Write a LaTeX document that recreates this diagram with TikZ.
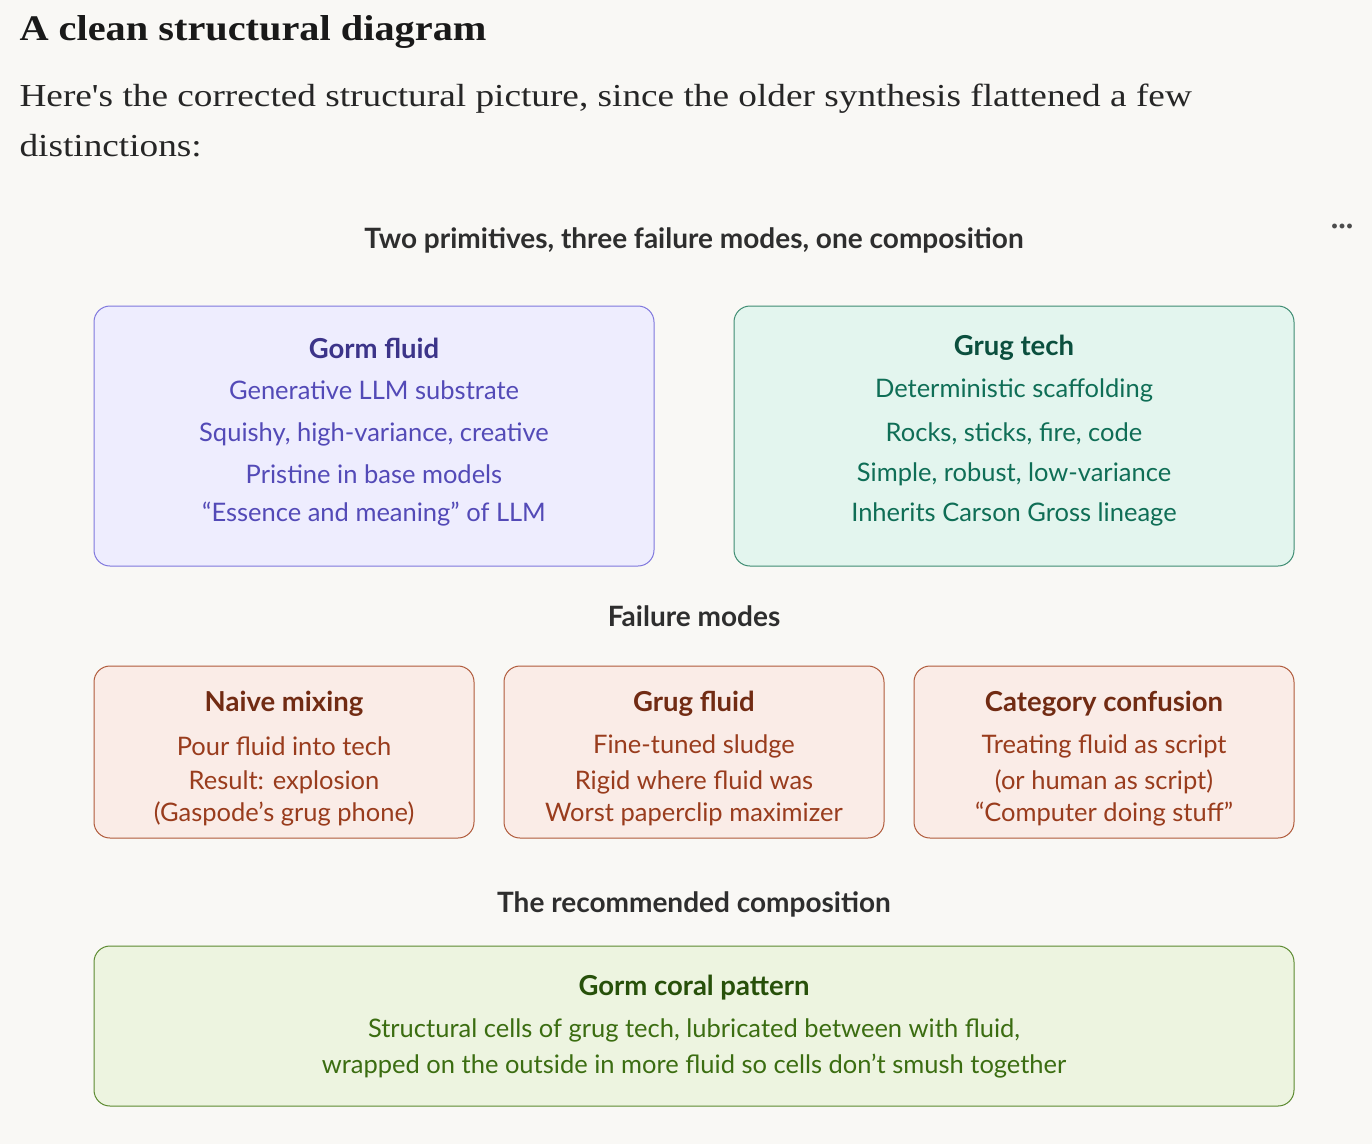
\documentclass[tikz,border=0pt]{standalone}
\usepackage{fontspec}
\setmainfont{Liberation Serif}
\newfontfamily\uisans{Lato}
\definecolor{bg}{HTML}{F9F8F5}
\definecolor{pf}{HTML}{EEEDFE}\definecolor{pb}{HTML}{7F77DD}\definecolor{pt}{HTML}{3C3489}\definecolor{px}{HTML}{534AB7}
\definecolor{gf}{HTML}{E3F5EE}\definecolor{gb}{HTML}{3E8C72}\definecolor{gt}{HTML}{0B4F3E}\definecolor{gx}{HTML}{0F6E56}
\definecolor{rf}{HTML}{FAECE7}\definecolor{rb}{HTML}{B05A3A}\definecolor{rt}{HTML}{712B13}\definecolor{rx}{HTML}{993C1D}
\definecolor{lf}{HTML}{EDF4E0}\definecolor{lb}{HTML}{5C8A30}\definecolor{lt}{HTML}{27500A}\definecolor{lx}{HTML}{3B6D11}
\begin{document}
\begin{tikzpicture}[x=1pt,y=-1pt,
 box/.style={draw,rounded corners=16pt,line width=1pt,minimum width=#1,inner sep=0pt},
 bt/.style={font=\uisans\bfseries\fontsize{27.5}{32}\selectfont,anchor=center},
 bx/.style={font=\uisans\fontsize{25.5}{29}\selectfont,anchor=center},
 sec/.style={font=\uisans\bfseries\fontsize{28}{32}\selectfont,text=black!82,anchor=center}]
\fill[bg] (0,0) rectangle (1372,1144);
\useasboundingbox (0,0) rectangle (1372,1144);
\node[anchor=west,font=\bfseries\fontsize{36}{40}\selectfont,text=black!90] (h) at (16,32) {\scalebox{1.12}[1]{A clean structural diagram}};
\node[anchor=west,font=\fontsize{32}{40}\selectfont,text=black!85] (p1) at (16,99) {\scalebox{1.165}[1]{Here\textquotesingle s the corrected structural picture, since the older synthesis flattened a few}};
\node[anchor=west,font=\fontsize{32}{40}\selectfont,text=black!85] (p2) at (16,146) {\scalebox{1.165}[1]{distinctions:}};
\node[font=\bfseries\fontsize{30}{30}\selectfont,text=black!70] (dots) at (1342,226) {...};
\node[sec] (s1) at (694,240) {Two primitives, three failure modes, one composition};
% boxes
\draw[box,fill=pf,draw=pb] (94,306) rectangle (654,566);
\node[bt,text=pt] (a0) at (374,348) {Gorm fluid};
\node[bx,text=px] (a1) at (374,390) {Generative LLM substrate};
\node[bx,text=px] (a2) at (374,434) {Squishy, high-variance, creative};
\node[bx,text=px] (a3) at (374,474) {Pristine in base models};
\node[bx,text=px] (a4) at (374,514) {“Essence and meaning” of LLM};
\draw[box,fill=gf,draw=gb] (734,306) rectangle (1294,566);
\node[bt,text=gt] (b0) at (1014,348) {Grug tech};
\node[bx,text=gx] (b1) at (1014,390) {Deterministic scaffolding};
\node[bx,text=gx] (b2) at (1014,434) {Rocks, sticks, fire, code};
\node[bx,text=gx] (b3) at (1014,474) {Simple, robust, low-variance};
\node[bx,text=gx] (b4) at (1014,514) {Inherits Carson Gross lineage};
\node[sec] (s2) at (694,616) {Failure modes};
\foreach \x/\n/\t/\u/\v/\w in {94/c/Naive mixing/Pour fluid into tech/Result: explosion/(Gaspode’s grug phone),504/d/Grug fluid/Fine-tuned sludge/Rigid where fluid was/Worst paperclip maximizer,914/e/Category confusion/Treating fluid as script/(or human as script)/“Computer doing stuff”}{
 \draw[box,fill=rf,draw=rb] (\x,666) rectangle (\x+380,838);
 \node[bt,text=rt] (\n0) at (\x+190,704) {\t};
 \node[bx,text=rx] (\n1) at (\x+190,746) {\u};
 \node[bx,text=rx] (\n2) at (\x+190,782) {\v};
 \node[bx,text=rx] (\n3) at (\x+190,814) {\w};
}
\node[sec] (s3) at (694,904) {The recommended composition};
\draw[box,fill=lf,draw=lb] (94,946) rectangle (1294,1106);
\node[bt,text=lt] (f0) at (694,988) {Gorm coral pattern};
\node[bx,text=lx] (f1) at (694,1030) {Structural cells of grug tech, lubricated between with fluid,};
\node[bx,text=lx] (f2) at (694,1066) {wrapped on the outside in more fluid so cells don’t smush together};
\end{tikzpicture}
\end{document}
